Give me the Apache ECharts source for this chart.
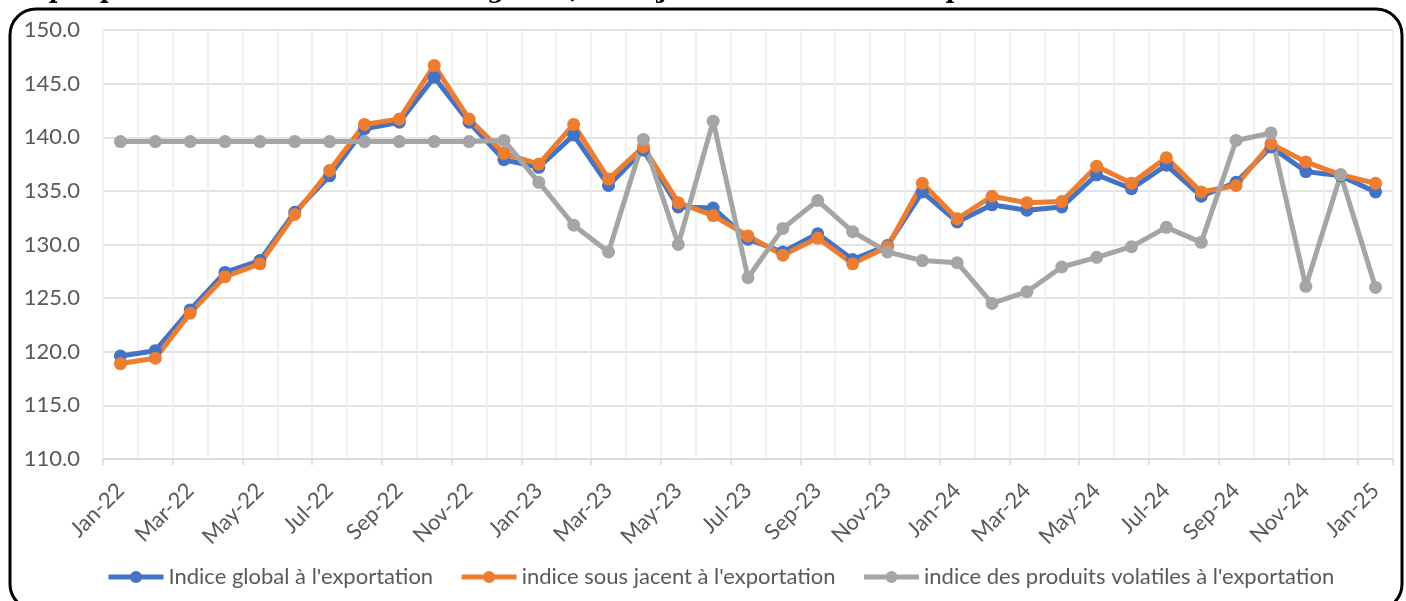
<!DOCTYPE html>
<html>
<head>
<meta charset="utf-8">
<script src="https://cdn.jsdelivr.net/npm/echarts@6/dist/echarts.min.js"></script>
<style>
  html, body { margin: 0; padding: 0; background: #fff; }
  #main { width: 1406px; height: 601px; }
</style>
</head>
<body>
<div id="main"></div>
<script>
// mois de janvier 2022 à janvier 2025
const months = ['Jan-22', 'Feb-22', 'Mar-22', 'Apr-22', 'May-22', 'Jun-22', 'Jul-22', 'Aug-22', 'Sep-22', 'Oct-22', 'Nov-22', 'Dec-22',
  'Jan-23', 'Feb-23', 'Mar-23', 'Apr-23', 'May-23', 'Jun-23', 'Jul-23', 'Aug-23', 'Sep-23', 'Oct-23', 'Nov-23', 'Dec-23',
  'Jan-24', 'Feb-24', 'Mar-24', 'Apr-24', 'May-24', 'Jun-24', 'Jul-24', 'Aug-24', 'Sep-24', 'Oct-24', 'Nov-24', 'Dec-24',
  'Jan-25']

// indice global
const globalIdx = [119.6, 120.1, 123.9, 127.4, 128.5, 133.0, 136.4, 140.8, 141.4, 145.6, 141.4, 137.9,
  137.2, 140.2, 135.5, 138.8, 133.5, 133.4, 130.5, 129.3, 131.0, 128.6, 129.9, 134.9,
  132.1, 133.7, 133.2, 133.5, 136.5, 135.2, 137.4, 134.5, 135.8, 139.1, 136.8, 136.4,
  134.9]

// indice sous-jacent
const sousJacent = [118.9, 119.4, 123.6, 127.0, 128.2, 132.8, 136.9, 141.2, 141.7, 146.7, 141.7, 138.5,
  137.5, 141.2, 136.1, 139.1, 133.9, 132.7, 130.8, 129.0, 130.6, 128.2, 129.8, 135.7,
  132.4, 134.5, 133.9, 134.0, 137.3, 135.7, 138.1, 134.9, 135.5, 139.4, 137.7, 136.5,
  135.7]

// produits volatils
const volatils = [139.6, 139.6, 139.6, 139.6, 139.6, 139.6, 139.6, 139.6, 139.6, 139.6, 139.6, 139.7,
  135.8, 131.8, 129.3, 139.8, 130.0, 141.5, 126.9, 131.5, 134.1, 131.2, 129.3, 128.5,
  128.3, 124.5, 125.6, 127.9, 128.8, 129.8, 131.6, 130.2, 139.7, 140.4, 126.1, 136.5,
  126.0]

const seriesNames = ["Indice global à l'exportation", "indice sous jacent à l'exportation", "indice des produits volatiles à l'exportation"]
const colors = ['#4472C4', '#ED7D31', '#A5A5A5']

const font = 'Lato, "Open Sans", sans-serif'

function lineSerie(name, data, color) {
  return {
    name: name,
    type: 'line',
    data: data,
    symbol: 'circle',
    symbolSize: 13,
    itemStyle: { color: color },
    lineStyle: { color: color, width: 5 },
    emphasis: { disabled: true }
  }
}

const myChart = echarts.init(document.getElementById('main'))
const option = {
  animation: false,
  color: colors,
  grid: { left: 103, right: 13, top: 30, bottom: 142, containLabel: false },
  legend: {
    left: 101,
    top: 561,
    itemWidth: 55,
    itemHeight: 15,
    itemGap: 26,
    lineStyle: { width: 5 },
    textStyle: { color: '#595959', fontSize: 22, fontFamily: font },
    data: seriesNames
  },
  xAxis: {
    type: 'category',
    data: months,
    boundaryGap: true,
    axisLine: { lineStyle: { color: '#d9d9d9', width: 1.5 } },
    axisTick: { show: true, interval: 1, length: 6, lineStyle: { color: '#d9d9d9', width: 1.5 } },
    axisLabel: { interval: 1, rotate: 45, color: '#595959', fontSize: 22, fontFamily: font, margin: 28 },
    splitLine: { show: true, interval: 0, lineStyle: { color: '#ececec', width: 1.5 } }
  },
  yAxis: {
    type: 'value',
    min: 110,
    max: 150,
    interval: 5,
    axisLine: { show: false },
    axisTick: { show: false },
    axisLabel: {
      color: '#595959', fontSize: 22, fontFamily: font, margin: 23,
      formatter: v => v.toFixed(1)
    },
    splitLine: { lineStyle: { color: '#d9d9d9', width: 1.5 } }
  },
  series: [
    lineSerie(seriesNames[0], globalIdx, colors[0]),
    lineSerie(seriesNames[1], sousJacent, colors[1]),
    lineSerie(seriesNames[2], volatils, colors[2])
  ],
  graphic: [
    {
      type: 'text',
      left: 0,
      top: -20,
      silent: true,
      style: {
        text: "Graphique 1 : Évolution des indices global, sous-jacent et volatil à l'exportation",
        font: 'bold 24px "DejaVu Serif", serif',
        fill: '#000'
      }
    },
    {
      type: 'rect',
      silent: true,
      shape: { x: 10, y: 9, width: 1392, height: 601, r: 26 },
      style: { fill: 'none', stroke: '#000', lineWidth: 3 }
    }
  ]
}
myChart.setOption(option)
</script>
</body>
</html>
